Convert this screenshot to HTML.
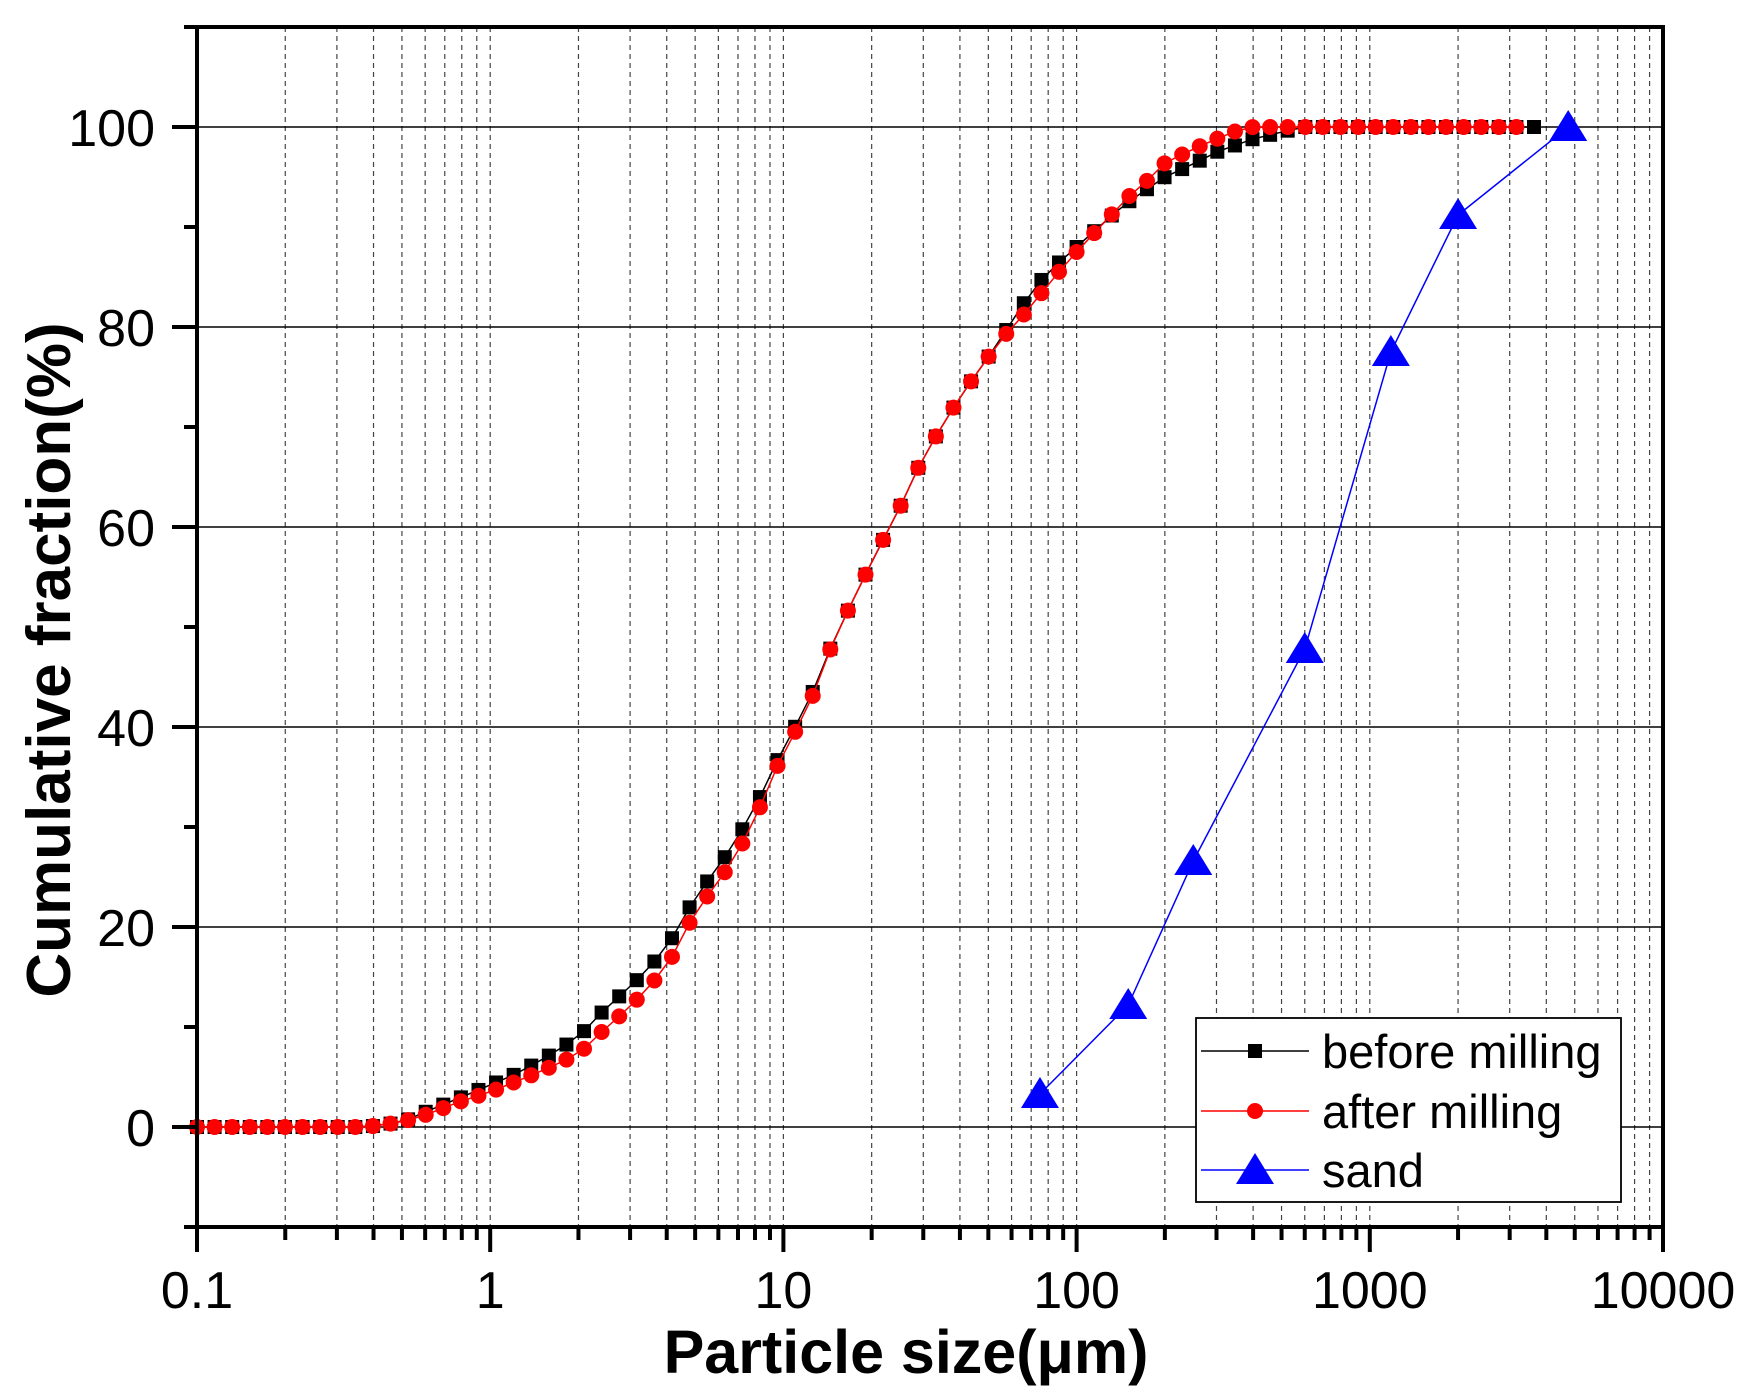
<!DOCTYPE html>
<html><head><meta charset="utf-8"><style>
html,body{margin:0;padding:0;background:#fff;}
svg{display:block;font-family:"Liberation Sans",Arial,sans-serif;}
</style></head><body>
<svg id="c" width="1739" height="1399" viewBox="0 0 1739 1399" xmlns="http://www.w3.org/2000/svg"></svg>
<script>
const L=197,R=1663,T=27,B=1227;
const dec=(R-L)/5;
const X=v=>L+(Math.log10(v)+1)*dec;
const Y=v=>1127-10*v;
let s='';
for(let d=-1;d<4;d++){for(let m=1;m<10;m++){const v=m*Math.pow(10,d);if(m===1&&d===-1)continue;const x=X(v);
s+=`<line x1="${x}" y1="${T}" x2="${x}" y2="${B}" stroke="#444" stroke-width="1.2" stroke-dasharray="5,4"/>`;}}
for(let v=0;v<=100;v+=20){s+=`<line x1="${L}" y1="${Y(v)}" x2="${R}" y2="${Y(v)}" stroke="#000" stroke-width="1.5"/>`;}
function interp(a,x){const lx=Math.log10(x);if(x<=a[0][0])return a[0][1];
for(let i=1;i<a.length;i++){if(x<=a[i][0]){const l0=Math.log10(a[i-1][0]),l1=Math.log10(a[i][0]);const t=(lx-l0)/(l1-l0);return a[i-1][1]+t*(a[i][1]-a[i-1][1]);}}return a[a.length-1][1];}
const before=[[0.1,0],[0.35,0],[0.4,0.1],[0.5,0.5],[0.6,1.5],[0.7,2.3],[0.8,3.0],[1,4.2],[1.2,5.2],[1.5,6.7],[2,9],[2.5,12],[3,14],[3.5,16],[4,18],[4.5,20.5],[5,23],[6,26],[7,29],[8,32],[9,35],[10,38],[12,42],[15,49],[20,56.5],[25,62],[30,67],[40,73],[50,77],[60,80.5],[70,83.5],[80,85.5],[100,88],[130,91],[150,92.5],[200,95],[250,96.3],[300,97.5],[400,98.8],[500,99.5],[600,100],[5000,100]];
const after=[[0.1,0],[0.35,0],[0.4,0.1],[0.5,0.5],[0.6,1.2],[0.8,2.6],[1,3.5],[1.5,5.6],[2,7.3],[2.5,10],[3,12],[4,16],[5,21.5],[6,24.5],[7,27.5],[8,30.8],[10,37.5],[12,41.5],[15,49],[20,56.5],[25,62],[30,67],[40,73],[50,77],[60,80],[70,82],[80,84.3],[100,87.5],[120,90],[150,93],[180,95],[200,96.4],[250,97.8],[300,98.8],[350,99.6],[400,100],[5000,100]];
function series(a,maxx,col,mk){let pts=[];for(let n=0;;n++){const x=0.1*Math.pow(10,0.06*n);if(x>maxx)break;pts.push([X(x),Y(interp(a,x))]);}
let o=`<polyline fill="none" stroke="${col}" stroke-width="1.5" points="${pts.map(p=>p.join(',')).join(' ')}"/>`;
pts.forEach(p=>{o+=mk==='s'?`<rect x="${p[0]-7}" y="${p[1]-7}" width="14" height="14" fill="${col}"/>`:`<circle cx="${p[0]}" cy="${p[1]}" r="8" fill="${col}"/>`;});return o;}
s+=series(before,3900,'#000','s');
s+=series(after,3600,'#f00','c');
const sand=[[75,3.3],[150,12.2],[250,26.6],[600,47.8],[1180,77.5],[2000,91.2],[4750,100]];
const tri=(x,y)=>`<polygon points="${x},${y-17} ${x-19},${y+14} ${x+19},${y+14}" fill="#00f"/>`;
s+=`<polyline fill="none" stroke="#00f" stroke-width="1.5" points="${sand.map(p=>X(p[0])+','+Y(p[1])).join(' ')}"/>`;
sand.forEach(p=>s+=tri(X(p[0]),Y(p[1])));
s+=`<rect x="${L}" y="${T}" width="${R-L}" height="${B-T}" fill="none" stroke="#000" stroke-width="4"/>`;
for(let v=-10;v<=110;v+=10){const maj=v%20===0;s+=`<line x1="${L-(maj?25:13)}" y1="${Y(v)}" x2="${L}" y2="${Y(v)}" stroke="#000" stroke-width="4"/>`;
if(maj)s+=`<text x="155" y="${Y(v)+19}" font-size="52" text-anchor="end">${v}</text>`;}
for(let d=-1;d<=4;d++){for(let m=1;m<10;m++){if(d===4&&m>1)break;const x=X(m*Math.pow(10,d));const maj=m===1;
s+=`<line x1="${x}" y1="${B}" x2="${x}" y2="${B+(maj?25:13)}" stroke="#000" stroke-width="4"/>`;
if(maj)s+=`<text x="${x}" y="1308" font-size="52" text-anchor="middle">${[0.1,1,10,100,1000,10000][d+1]}</text>`;}}
s+=`<text x="906" y="1373" font-size="61" font-weight="bold" text-anchor="middle">Particle size(μm)</text>`;
s+=`<text transform="translate(70,660) rotate(-90)" font-size="62" font-weight="bold" text-anchor="middle">Cumulative fraction(%)</text>`;
s+=`<rect x="1196" y="1018" width="425" height="184" fill="#fff" stroke="#000" stroke-width="1.8"/>`;
const ly=[1051,1111,1170];
s+=`<line x1="1201" y1="${ly[0]}" x2="1309" y2="${ly[0]}" stroke="#000" stroke-width="1.5"/><rect x="1248" y="${ly[0]-7}" width="14" height="14" fill="#000"/>`;
s+=`<line x1="1201" y1="${ly[1]}" x2="1309" y2="${ly[1]}" stroke="#f00" stroke-width="1.5"/><circle cx="1255" cy="${ly[1]}" r="8" fill="#f00"/>`;
s+=`<line x1="1201" y1="${ly[2]}" x2="1309" y2="${ly[2]}" stroke="#00f" stroke-width="1.5"/>`+tri(1255,ly[2]);
['before milling','after milling','sand'].forEach((t,i)=>s+=`<text x="1322" y="${ly[i]+17}" font-size="47">${t}</text>`);
document.getElementById('c').innerHTML=s;
</script>
</body></html>
